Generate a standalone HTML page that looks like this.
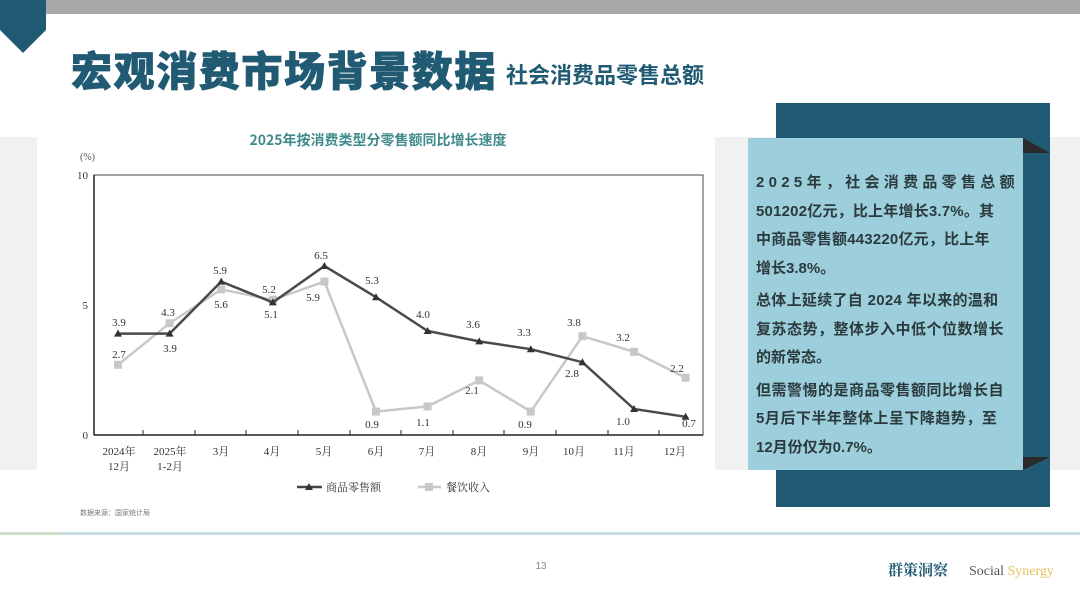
<!DOCTYPE html>
<html><head><meta charset="utf-8"><style>
body{margin:0;width:1080px;height:608px;overflow:hidden;background:#fff;font-family:"Liberation Sans","Noto Sans CJK SC",sans-serif;}
</style></head><body>
<svg width="1080" height="608" viewBox="0 0 1080 608" xmlns="http://www.w3.org/2000/svg" style="position:absolute;left:0;top:0">
<rect x="46" y="0" width="1034" height="14" fill="#a9a9a9"/>
<polygon points="0,0 46,0 46,30 23,53 0,30" fill="#215a73"/>
<text x="71" y="86" font-family="Noto Sans CJK SC, sans-serif" font-weight="900" font-size="41" letter-spacing="1.6" fill="#215a73" stroke="#215a73" stroke-width="0.8">宏观消费市场背景数据</text>
<text x="506" y="83" font-family="Noto Sans CJK SC, sans-serif" font-weight="700" font-size="22" fill="#215a73">社会消费品零售总额</text>
<rect x="0" y="137" width="1080" height="333" fill="#f1f1f1"/>
<rect x="37" y="137" width="678" height="333" fill="#fff"/>
<rect x="37" y="470" width="678" height="60" fill="#fff"/>
<text x="378" y="145" text-anchor="middle" font-family="Noto Sans CJK SC, sans-serif" font-weight="700" font-size="14" fill="#3f8a8a">2025年按消费类型分零售额同比增长速度</text>
<text x="80" y="160" font-family="Liberation Serif, Noto Serif CJK SC, serif" font-size="10" fill="#555">(%)</text>
<g font-family="Liberation Serif, serif" font-size="11" fill="#333" text-anchor="end">
<text x="88" y="179">10</text><text x="88" y="309">5</text><text x="88" y="439">0</text></g>
<rect x="94" y="175" width="609" height="260" fill="none" stroke="#444" stroke-width="1"/>
<line x1="94" y1="175" x2="94" y2="435" stroke="#222" stroke-width="1.5"/>
<line x1="94" y1="435" x2="703" y2="435" stroke="#222" stroke-width="1.5"/>
<g stroke="#222" stroke-width="1">
<line x1="143" y1="430" x2="143" y2="435"/><line x1="195" y1="430" x2="195" y2="435"/><line x1="246" y1="430" x2="246" y2="435"/><line x1="298" y1="430" x2="298" y2="435"/><line x1="350" y1="430" x2="350" y2="435"/><line x1="401" y1="430" x2="401" y2="435"/><line x1="453" y1="430" x2="453" y2="435"/><line x1="504" y1="430" x2="504" y2="435"/><line x1="556" y1="430" x2="556" y2="435"/><line x1="608" y1="430" x2="608" y2="435"/><line x1="659" y1="430" x2="659" y2="435"/>
</g>
<polyline fill="none" stroke="#c8c8c8" stroke-width="2.5" points="118,364.8 169.6,323.2 221.2,289.4 272.8,299.8 324.4,281.6 376,411.6 427.6,406.4 479.2,380.4 530.8,411.6 582.4,336.2 634,351.8 685.6,377.8"/>
<g fill="#c8c8c8">
<rect x="114" y="360.8" width="8" height="8"/><rect x="165.6" y="319.2" width="8" height="8"/><rect x="217.2" y="285.4" width="8" height="8"/><rect x="268.8" y="295.8" width="8" height="8"/><rect x="320.4" y="277.6" width="8" height="8"/><rect x="372" y="407.6" width="8" height="8"/><rect x="423.6" y="402.4" width="8" height="8"/><rect x="475.2" y="376.4" width="8" height="8"/><rect x="526.8" y="407.6" width="8" height="8"/><rect x="578.4" y="332.2" width="8" height="8"/><rect x="630" y="347.8" width="8" height="8"/><rect x="681.6" y="373.8" width="8" height="8"/></g>
<polyline fill="none" stroke="#4a4a4a" stroke-width="2.5" points="118,333.6 169.6,333.6 221.2,281.6 272.8,302.4 324.4,266 376,297.2 427.6,331 479.2,341.4 530.8,349.2 582.4,362.2 634,409 685.6,416.8"/>
<g fill="#333">
<polygon points="118,329.6 122,336.6 114,336.6"/><polygon points="169.6,329.6 173.6,336.6 165.6,336.6"/><polygon points="221.2,277.6 225.2,284.6 217.2,284.6"/><polygon points="272.8,298.4 276.8,305.4 268.8,305.4"/><polygon points="324.4,262 328.4,269 320.4,269"/><polygon points="376,293.2 380,300.2 372,300.2"/><polygon points="427.6,327 431.6,334 423.6,334"/><polygon points="479.2,337.4 483.2,344.4 475.2,344.4"/><polygon points="530.8,345.2 534.8,352.2 526.8,352.2"/><polygon points="582.4,358.2 586.4,365.2 578.4,365.2"/><polygon points="634,405 638,412 630,412"/><polygon points="685.6,412.8 689.6,419.8 681.6,419.8"/></g>
<g font-family="Liberation Serif, serif" font-size="11" fill="#333" text-anchor="middle">
<text x="119" y="326">3.9</text><text x="119" y="358">2.7</text>
<text x="168" y="316">4.3</text><text x="170" y="352">3.9</text>
<text x="220" y="274">5.9</text><text x="221" y="308">5.6</text>
<text x="269" y="293">5.2</text><text x="271" y="318">5.1</text>
<text x="321" y="259">6.5</text><text x="313" y="301">5.9</text>
<text x="372" y="284">5.3</text><text x="372" y="428">0.9</text>
<text x="423" y="318">4.0</text><text x="423" y="426">1.1</text>
<text x="473" y="328">3.6</text><text x="472" y="394">2.1</text>
<text x="524" y="336">3.3</text><text x="525" y="428">0.9</text>
<text x="574" y="326">3.8</text><text x="572" y="377">2.8</text>
<text x="623" y="341">3.2</text><text x="623" y="425">1.0</text>
<text x="677" y="372">2.2</text><text x="689" y="427">0.7</text>
</g>
<g font-family="Liberation Serif, Noto Serif CJK SC, serif" font-size="11" fill="#333" text-anchor="middle">
<text x="119" y="455">2024年</text><text x="119" y="470">12月</text>
<text x="170" y="455">2025年</text><text x="170" y="470">1-2月</text>
<text x="221" y="455">3月</text><text x="272" y="455">4月</text><text x="324" y="455">5月</text><text x="376" y="455">6月</text><text x="427" y="455">7月</text><text x="479" y="455">8月</text><text x="531" y="455">9月</text><text x="574" y="455">10月</text><text x="624" y="455">11月</text><text x="675" y="455">12月</text>
</g>
<line x1="297" y1="487" x2="322" y2="487" stroke="#444" stroke-width="2.5"/><polygon points="309,483 313,490 305,490" fill="#333"/>
<text x="326" y="491" font-family="Noto Serif CJK SC, serif" font-size="11" fill="#333">商品零售额</text>
<line x1="418" y1="487" x2="441" y2="487" stroke="#c8c8c8" stroke-width="2.5"/><rect x="425" y="483" width="8" height="8" fill="#c8c8c8"/>
<text x="446" y="491" font-family="Noto Serif CJK SC, serif" font-size="11" fill="#333">餐饮收入</text>
<text x="80" y="515" font-family="Noto Sans CJK SC, sans-serif" font-size="7" fill="#777">数据来源：国家统计局</text>
<rect x="776" y="103" width="274" height="404" fill="#215a73"/>
<rect x="748" y="138" width="275" height="332" fill="#9ccfdb"/>
<polygon points="1023,138 1050,153 1023,153" fill="#2a2a2a"/>
<polygon points="1023,470 1050,457 1023,457" fill="#2a2a2a"/>
<rect x="0" y="532" width="1080" height="3" fill="#c8dde3"/>
<rect x="0" y="532" width="60" height="3" fill="#cfe0c8"/>
<text x="541" y="569" text-anchor="middle" font-size="10" fill="#888">13</text>
<text x="888" y="575" font-family="Noto Serif CJK SC, serif" font-weight="700" font-size="15" fill="#215a73">群策洞察</text>
<text x="969" y="575" font-family="Liberation Serif, serif" font-size="14" fill="#555">Social <tspan fill="#e0c25a">Synergy</tspan></text>
</svg>
<div style="position:absolute;left:756px;top:169px;width:262px;font-family:'Liberation Sans','Noto Sans CJK SC',sans-serif;font-weight:700;font-size:15px;line-height:28.5px;color:#2b3a3e;">
<div style="letter-spacing:4.3px;white-space:nowrap">2025年，社会消费品零售总额</div>
<div style="white-space:nowrap;letter-spacing:0.2px">501202亿元，比上年增长3.7%。其</div>
<div style="white-space:nowrap;letter-spacing:0.2px">中商品零售额443220亿元，比上年</div>
<div>增长3.8%。</div>
<div style="margin-top:4px;white-space:nowrap;letter-spacing:0.3px">总体上延续了自 2024 年以来的温和</div>
<div style="white-space:nowrap;letter-spacing:0.5px">复苏态势，整体步入中低个位数增长</div>
<div>的新常态。</div>
<div style="margin-top:4px;white-space:nowrap;letter-spacing:0.5px">但需警惕的是商品零售额同比增长自</div>
<div style="white-space:nowrap;letter-spacing:0.5px">5月后下半年整体上呈下降趋势，至</div>
<div>12月份仅为0.7%。</div>
</div>
</body></html>
